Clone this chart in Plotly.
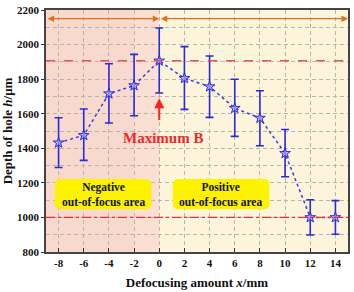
import plotly.graph_objects as go

x_vals = [-8, -6, -4, -2, 0, 2, 4, 6, 8, 10, 12, 14]
depth = [1432, 1475, 1716, 1763, 1906, 1805, 1757, 1632, 1575, 1371, 1000, 1000]
err_up = [145, 152, 173, 180, 190, 183, 177, 167, 158, 138, 102, 97]
err_down = [143, 145, 170, 175, 186, 180, 178, 163, 160, 136, 102, 97]
max_depth = 1906
min_line = 1000
x_ticks = [-8, -6, -4, -2, 0, 2, 4, 6, 8, 10, 12, 14]

FONT = "Liberation Serif"
GRID_DASH = "4px,3px"
fig = go.Figure()

# background regions
fig.add_shape(type="rect", xref="x", yref="y", x0=-9, x1=0, y0=800, y1=2200,
              fillcolor="#f8d9cd", line_width=0, layer="below")
fig.add_shape(type="rect", xref="x", yref="y", x0=-2, x1=0, y0=800, y1=2200,
              fillcolor="#fadfd2", line_width=0, layer="below")
fig.add_shape(type="rect", xref="x", yref="y", x0=0, x1=15, y0=800, y1=2200,
              fillcolor="#fdf4dc", line_width=0, layer="below")


def rounded_box(x0, x1, y0, y1, rx=0.45, ry=32):
    return (f"M {x0+rx},{y0} L {x1-rx},{y0} Q {x1},{y0} {x1},{y0+ry} "
            f"L {x1},{y1-ry} Q {x1},{y1} {x1-rx},{y1} L {x0+rx},{y1} "
            f"Q {x0},{y1} {x0},{y1-ry} L {x0},{y0+ry} Q {x0},{y0} {x0+rx},{y0} Z")


fig.add_shape(type="path", xref="x", yref="y", path=rounded_box(-8.3, -0.62, 1047, 1222),
              fillcolor="#fdf200", line_width=0, layer="above")
fig.add_shape(type="path", xref="x", yref="y", path=rounded_box(1.08, 8.75, 1047, 1222),
              fillcolor="#fdf200", line_width=0, layer="above")

# reference lines
fig.add_shape(type="line", xref="x", yref="y", x0=-9, x1=15, y0=max_depth, y1=max_depth,
              line=dict(color="#f25050", width=1.6, dash="dash"))
fig.add_shape(type="line", xref="x", yref="y", x0=-9, x1=15, y0=min_line, y1=min_line,
              line=dict(color="#e83030", width=1.3, dash="dashdot"))

fig.add_trace(go.Scatter(
    x=x_vals, y=depth, mode="lines+markers",
    line=dict(color="#3a3ae0", width=1.5, dash="dot"),
    marker=dict(symbol="star", size=8, color="rgba(170,170,255,0.7)",
                line=dict(color="#2a2ae0", width=1)),
    error_y=dict(type="data", symmetric=False, array=err_up, arrayminus=err_down,
                 color="#2a2ae0", thickness=1.6, width=4),
    showlegend=False,
))

annotations = [
    dict(x=0, y=2150, ax=-9, ay=2150, xref="x", yref="y", axref="x", ayref="y",
         text="", showarrow=True, arrowhead=2, startarrowhead=2, arrowside="end+start",
         arrowsize=1, arrowwidth=1.3, arrowcolor="#e07020"),
    dict(x=15, y=2150, ax=0, ay=2150, xref="x", yref="y", axref="x", ayref="y",
         text="", showarrow=True, arrowhead=2, startarrowhead=2, arrowside="end+start",
         arrowsize=1, arrowwidth=1.3, arrowcolor="#e07020"),
    dict(x=0, y=1690, ax=0, ay=1555, xref="x", yref="y", axref="x", ayref="y",
         text="", showarrow=True, arrowhead=2, arrowsize=1, arrowwidth=2,
         arrowcolor="#ff2020"),
    dict(x=0.3, y=1460, xref="x", yref="y", text="<b>Maximum B</b>", showarrow=False,
         font=dict(family=FONT, size=15, color="#f02828")),
    dict(x=-4.45, y=1135, xref="x", yref="y", text="<b>Negative<br>out-of-focus area</b>",
         showarrow=False, font=dict(family=FONT, size=11.5, color="#111")),
    dict(x=4.9, y=1135, xref="x", yref="y", text="<b>Positive<br>out-of-focus area</b>",
         showarrow=False, font=dict(family=FONT, size=11.5, color="#111")),
]

fig.update_layout(
    width=354, height=292,
    margin=dict(l=43, r=4, t=5, b=39),
    paper_bgcolor="white", plot_bgcolor="#fdf4dc",
    font=dict(family=FONT, size=11, color="#111"),
    annotations=annotations,
    xaxis=dict(range=[-9, 15], tickvals=x_ticks, ticktext=[f"<b>{v}</b>" for v in x_ticks],
               ticks="inside", ticklen=4, tickcolor="#333",
               showgrid=True, gridcolor="#bdb4a6", griddash=GRID_DASH, gridwidth=0.8,
               showline=True, linecolor="#444", linewidth=1.5, mirror=True,
               zeroline=False, layer="above traces", ticklabeloverflow="allow",
               title=dict(text="<b>Defocusing amount <i>x</i>/mm</b>", font=dict(size=13), standoff=10)),
    yaxis=dict(range=[800, 2200], tickvals=list(range(800, 2201, 200)),
               ticktext=[f"<b>{v}</b>" for v in range(800, 2201, 200)],
               ticks="outside", ticklen=3, tickcolor="#333",
               showgrid=True, gridcolor="#bdb4a6", griddash=GRID_DASH, gridwidth=0.8,
               minor=dict(dtick=100, showgrid=True, gridcolor="#bdb4a6", griddash=GRID_DASH, gridwidth=0.8),
               showline=True, linecolor="#444", linewidth=1.5, mirror=True,
               zeroline=False, layer="above traces", ticklabeloverflow="allow",
               title=dict(text="<b>Depth of hole <i>h</i>/μm</b>", font=dict(size=13), standoff=4)),
)

fig.write_html("out.html", config={"displayModeBar": False},
               post_script="document.body.style.margin='0';document.body.style.overflow='hidden';")
